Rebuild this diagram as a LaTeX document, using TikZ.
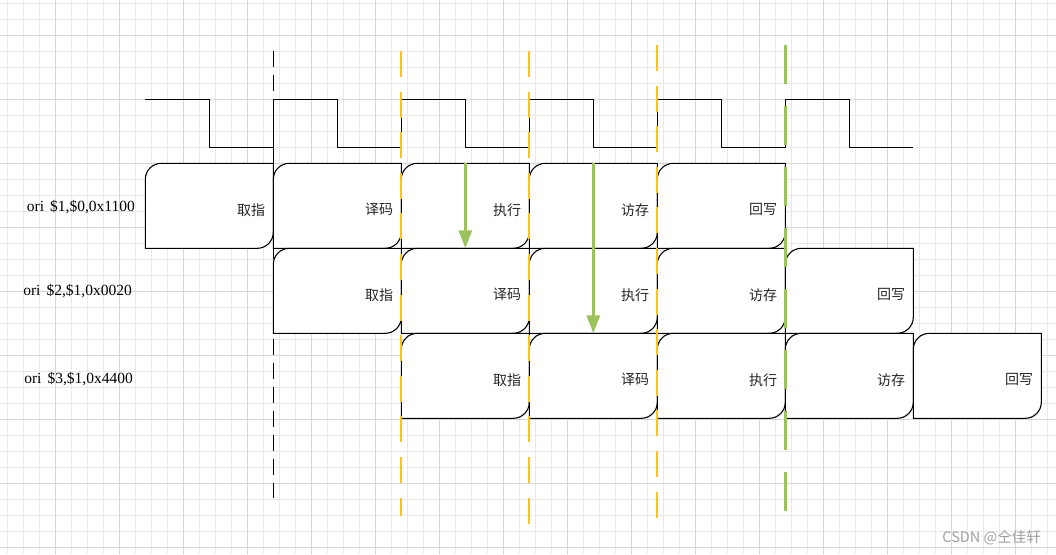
\documentclass[tikz,border=0pt]{standalone}
\usepackage{fontspec}
\setmainfont{Liberation Serif}
\newfontfamily\cjk{Noto Sans CJK SC}
\usetikzlibrary{arrows.meta}
\definecolor{gridminor}{HTML}{E8E8E8}
\definecolor{gridmajor}{HTML}{D6D6D6}
\definecolor{ylw}{HTML}{FFC20E}
\definecolor{grn}{HTML}{9BC25C}
\definecolor{wmgray}{HTML}{A0A0A0}
\newcommand\mkstage[4]{%
  \pgfmathsetmacro\xa{145.3+128*#2}%
  \pgfmathsetmacro\xb{\xa+128}%
  \pgfmathsetmacro\ya{163.3+85*#3}%
  \pgfmathsetmacro\yb{\ya+85}%
  \draw[stagebox] (\xa,\ya+16) .. controls (\xa,\ya+7.2) and (\xa+7.2,\ya) .. (\xa+16,\ya)
     -- (\xb,\ya) -- (\xb,\yb-16) .. controls (\xb,\yb-7.2) and (\xb-7.2,\yb) .. (\xb-16,\yb)
     -- (\xa,\yb) -- cycle;
  \node[stagelabel] (#1) at (\xb-8,\ya+46.5) {#4};
}
\begin{document}
\begin{tikzpicture}[x=1pt,y=-1pt,
  stagebox/.style={draw=black, line width=1.1pt, fill=white},
  stagelabel/.style={anchor=east, inner sep=0pt, font=\cjk\fontsize{14}{14}\selectfont, text=black!85},
  instr/.style={anchor=east, inner sep=0pt, font=\fontsize{15.5}{15.5}\selectfont},
  clock/.style={draw=black, line width=1.2pt},
  ydash/.style={draw=ylw, line width=2pt, dash pattern=on 26pt off 14.6pt},
  gdash/.style={draw=grn, line width=2.5pt, dash pattern=on 39pt off 22pt},
  kdash/.style={draw=black, line width=1pt, dash pattern=on 16pt off 8pt},
  garrow/.style={draw=grn, line width=3pt, -{Triangle[width=13pt,length=18pt]}},
  minorline/.style={draw=gridminor, line width=1pt},
  majorline/.style={draw=gridmajor, line width=1pt}
]
\useasboundingbox (0,0) rectangle (1056,554);
\fill[white] (0,0) rectangle (1056,554);
% grid
\foreach \i in {0,...,65} \draw[minorline] (7.3+16*\i,0) -- (7.3+16*\i,554);
\foreach \i in {0,...,34} \draw[minorline] (0,3.3+16*\i) -- (1056,3.3+16*\i);
\foreach \i in {0,...,15} \draw[majorline] (55.3+64*\i,0) -- (55.3+64*\i,554);
\foreach \i in {0,...,8} \draw[majorline] (0,35.3+64*\i) -- (1056,35.3+64*\i);
% clock
\draw[clock] (145.3,99.3) -| (209.3,147.3) -| (273.3,99.3) -| (337.3,147.3) -| (401.3,99.3)
  -| (465.3,147.3) -| (529.3,99.3) -| (593.3,147.3) -| (657.3,99.3) -| (721.3,147.3)
  -| (785.3,99.3) -| (849.3,147.3) -- (913.3,147.3);
% black dashed line
\coordinate (k1) at (273.3,51);
\coordinate (k2) at (273.3,498);
\draw[kdash] (k1) -- (k2);
% stages
\mkstage{s00}{0}{0}{取指}
\mkstage{s01}{1}{0}{译码}
\mkstage{s02}{2}{0}{执行}
\mkstage{s03}{3}{0}{访存}
\mkstage{s04}{4}{0}{回写}
\mkstage{s11}{1}{1}{取指}
\mkstage{s12}{2}{1}{译码}
\mkstage{s13}{3}{1}{执行}
\mkstage{s14}{4}{1}{访存}
\mkstage{s15}{5}{1}{回写}
\mkstage{s22}{2}{2}{取指}
\mkstage{s23}{3}{2}{译码}
\mkstage{s24}{4}{2}{执行}
\mkstage{s25}{5}{2}{访存}
\mkstage{s26}{6}{2}{回写}
% coloured dashed lines
\coordinate (y1a) at (401.3,51);  \coordinate (y1b) at (401.3,516);
\coordinate (y2a) at (529.3,51);  \coordinate (y2b) at (529.3,524);
\coordinate (y3a) at (657.3,45);  \coordinate (y3b) at (657.3,518);
\coordinate (g1a) at (785.3,45);  \coordinate (g1b) at (785.3,511);
\draw[ydash] (y1a) -- (y1b);
\draw[ydash] (y2a) -- (y2b);
\draw[ydash] (y3a) -- (y3b);
\draw[gdash] (g1a) -- (g1b);
% arrows
\coordinate (a1s) at (465.3,163.3); \coordinate (a1e) at (465.3,248.3);
\coordinate (a2s) at (593.3,163.3); \coordinate (a2e) at (593.3,333.3);
\draw[garrow] (a1s) -- (a1e);
\draw[garrow] (a2s) -- (a2e);
% instruction labels
\node[instr] (i1) at (135,207) {ori\hspace{6pt}\$1,\$0,0x1100};
\node[instr] (i2) at (132,291) {ori\hspace{6pt}\$2,\$1,0x0020};
\node[instr] (i3) at (133,379) {ori\hspace{6pt}\$3,\$1,0x4400};
% watermark
\node[anchor=east, inner sep=0pt, font=\cjk\fontsize{14.5}{14.5}\selectfont, text=wmgray] (wm) at (1041,537.5) {CSDN @仝佳轩};
\end{tikzpicture}
\end{document}
